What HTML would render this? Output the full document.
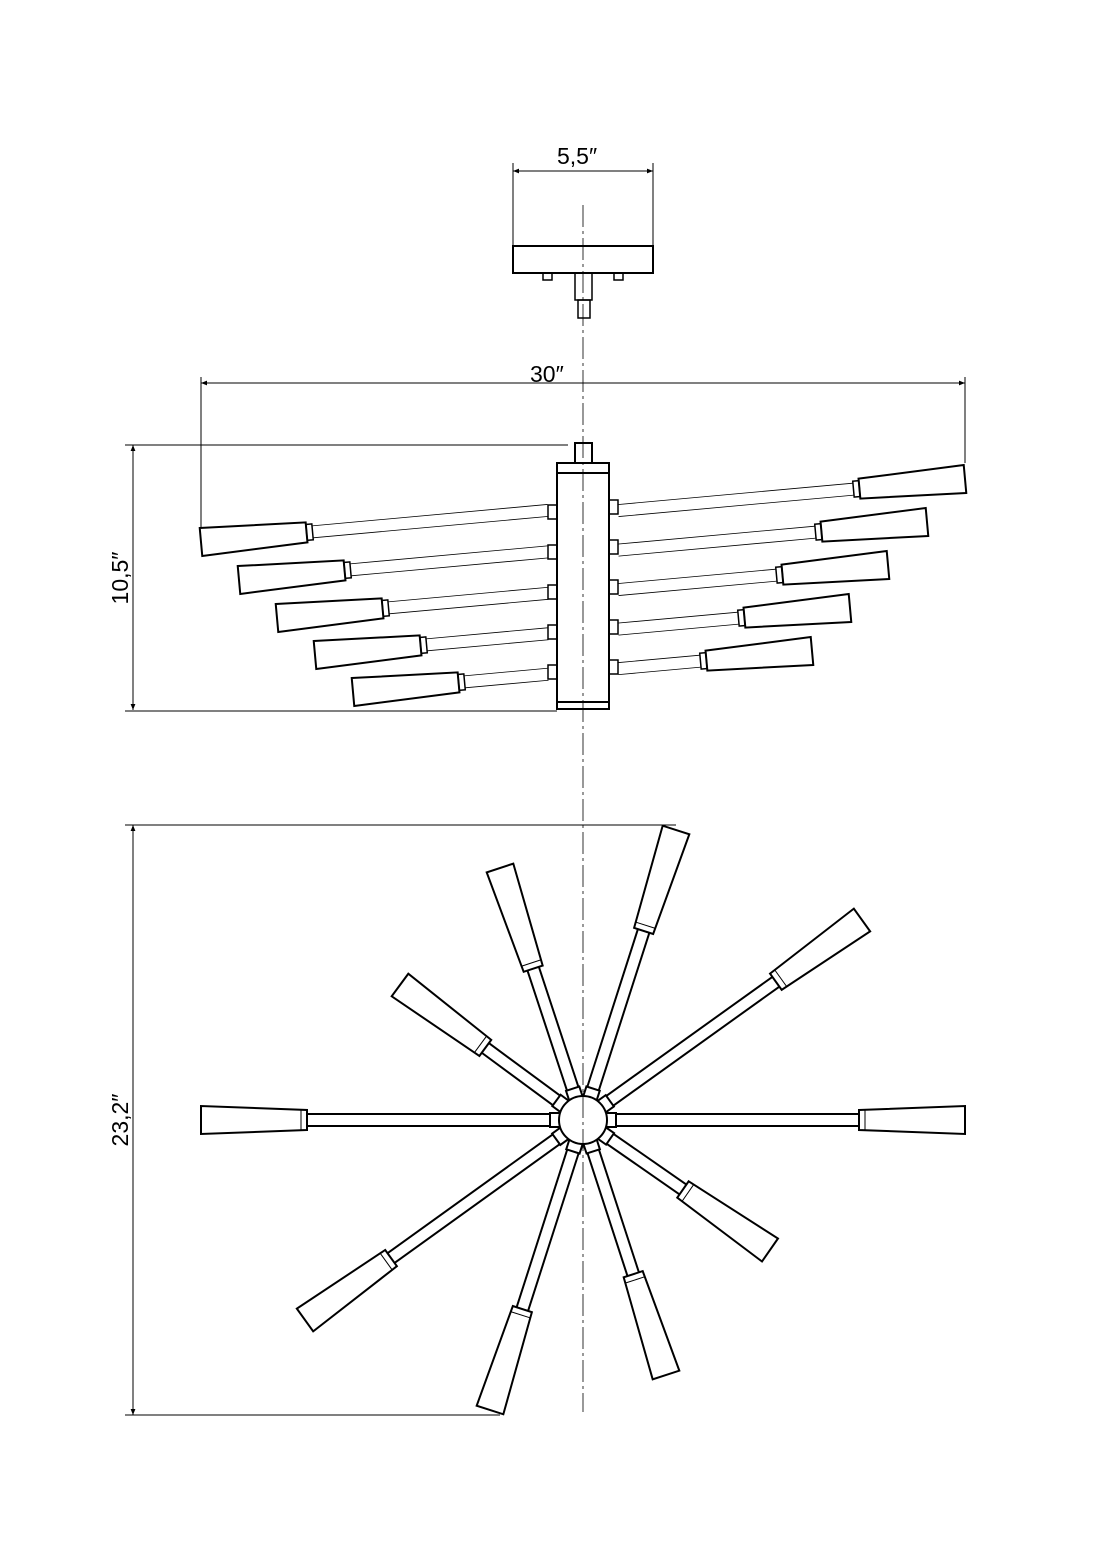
<!DOCTYPE html>
<html><head><meta charset="utf-8"><style>
html,body{margin:0;padding:0;background:#fff;}
svg{display:block;}
text{font-family:"Liberation Sans",sans-serif;font-size:23px;fill:#000;}
</style></head><body>
<svg id="s" width="1096" height="1551" viewBox="0 0 1096 1551" xmlns="http://www.w3.org/2000/svg">
<defs>
<marker id="a" viewBox="0 0 10 10" refX="10" refY="5" markerWidth="14" markerHeight="6" orient="auto-start-reverse" markerUnits="userSpaceOnUse"><path d="M0,1 L10,5 L0,9 z" fill="#000"/></marker>
</defs>
<g stroke="#000" fill="none" stroke-width="1">
<line x1="583" y1="205" x2="583" y2="1412" stroke-dasharray="22,4,3,4" stroke-width="0.8"/>
<line x1="513" y1="163" x2="513" y2="245"/><line x1="653" y1="163" x2="653" y2="245"/>
<line x1="513" y1="171" x2="653" y2="171" marker-start="url(#a)" marker-end="url(#a)"/>
<rect x="513" y="246" width="140" height="27" stroke-width="2"/>
<rect x="543" y="273" width="9" height="7" stroke-width="1.5"/>
<rect x="614" y="273" width="9" height="7" stroke-width="1.5"/>
<rect x="575" y="273" width="17" height="27" stroke-width="1.5"/>
<rect x="578" y="300" width="12" height="18" stroke-width="1.5"/>
<line x1="201" y1="383" x2="965" y2="383" marker-start="url(#a)" marker-end="url(#a)"/>
<line x1="201" y1="377" x2="201" y2="528"/><line x1="965" y1="377" x2="965" y2="463"/>
<line x1="133" y1="445" x2="133" y2="710" marker-start="url(#a)" marker-end="url(#a)"/>
<line x1="125" y1="445" x2="568" y2="445"/><line x1="125" y1="711" x2="557" y2="711"/>
<line x1="133" y1="825" x2="133" y2="1415" marker-start="url(#a)" marker-end="url(#a)"/>
<line x1="125" y1="825" x2="676" y2="825"/><line x1="125" y1="1415" x2="500" y2="1415"/>
<rect x="575" y="443" width="17" height="20" stroke-width="2"/>
<rect x="557" y="463" width="52" height="246" stroke-width="2"/>
<line x1="557" y1="473" x2="609" y2="473" stroke-width="2"/>
<line x1="557" y1="702" x2="609" y2="702" stroke-width="2"/>
<g id="side"></g>
<g id="topv"></g>
<circle cx="583" cy="1120" r="24" stroke-width="2" fill="#fff"/>
<line x1="583" y1="1096" x2="583" y2="1144" stroke-dasharray="22,4,3,4" stroke-width="0.8"/>
</g>
<text x="557" y="164">5,5″</text>
<text x="530" y="382">30″</text>
<text transform="translate(128,578) rotate(-90)" text-anchor="middle">10,5″</text>
<text transform="translate(128,1120) rotate(-90)" text-anchor="middle">23,2″</text>
<script>
(function(){
var NS="http://www.w3.org/2000/svg";
function el(p,t,a){var e=document.createElementNS(NS,t);for(var k in a)e.setAttribute(k,a[k]);p.appendChild(e);return e;}
var side=document.getElementById('side');
var ang=-5.2;
var L=[[201,542,512],[239,580,552],[277,618,592],[315,655,632],[353,692,672]];
L.forEach(function(a){
  var g=el(side,'g',{transform:'translate('+a[0]+','+a[1]+') rotate('+ang+')'});
  var len=(548-a[0])/Math.cos(ang*Math.PI/180);
  el(g,'polygon',{points:'0,-14 106,-10 106,10 0,14','stroke-width':2});
  el(g,'rect',{x:106,y:-8,width:6,height:16,'stroke-width':1.5});
  el(g,'line',{x1:112,y1:-6,x2:len,y2:-6,'stroke-width':0.8});
  el(g,'line',{x1:112,y1:6,x2:len,y2:6,'stroke-width':0.8});
  el(side,'rect',{x:548,y:a[2]-7,width:9,height:14,'stroke-width':1.5});
});
var R=[[965,479,507],[927,522,547],[888,565,587],[850,608,627],[812,651,667]];
R.forEach(function(a){
  var g=el(side,'g',{transform:'translate('+a[0]+','+a[1]+') rotate('+(180+ang)+')'});
  var len=(a[0]-618)/Math.cos(ang*Math.PI/180);
  el(g,'polygon',{points:'0,-14 106,-10 106,10 0,14','stroke-width':2});
  el(g,'rect',{x:106,y:-8,width:6,height:16,'stroke-width':1.5});
  el(g,'line',{x1:112,y1:-6,x2:len,y2:-6,'stroke-width':0.8});
  el(g,'line',{x1:112,y1:6,x2:len,y2:6,'stroke-width':0.8});
  el(side,'rect',{x:609,y:a[2]-7,width:9,height:14,'stroke-width':1.5});
});
var tv=document.getElementById('topv');
var cx=583,cy=1120;
var ends=[[965,1120],[201,1120],[676,830],[490,1410],[862,920],[305,1320],[400,985],[770,1250],[500,868],[666,1375]];
ends.forEach(function(e){
  var dx=e[0]-cx,dy=e[1]-cy,Lg=Math.sqrt(dx*dx+dy*dy),th=Math.atan2(dy,dx)*180/Math.PI;
  var g=el(tv,'g',{transform:'translate('+cx+','+cy+') rotate('+th+')'});
  el(g,'rect',{x:22,y:-7,width:11,height:14,'stroke-width':2});
  el(g,'line',{x1:33,y1:-6,x2:Lg-106,y2:-6,'stroke-width':2});
  el(g,'line',{x1:33,y1:6,x2:Lg-106,y2:6,'stroke-width':2});
  el(g,'polygon',{points:(Lg-106)+',-10 '+Lg+',-14 '+Lg+',14 '+(Lg-106)+',10','stroke-width':2,fill:'#fff'});
  el(g,'line',{x1:Lg-100,y1:-10,x2:Lg-100,y2:10,'stroke-width':1});
});
})();
</script>
</svg>
</body></html>
